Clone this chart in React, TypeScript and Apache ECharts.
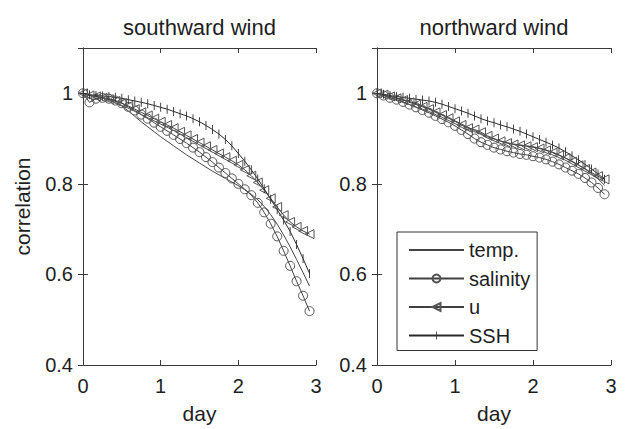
import React, { useEffect, useRef } from "react";
import * as echarts from "echarts";

// time in hours (2-hour steps), converted to days for the x axis
const HOURS = [0, 2, 4, 6, 8, 10, 12, 14, 16, 18, 20, 22, 24, 26, 28, 30, 32, 34, 36, 38, 40, 42, 44, 46, 48, 50, 52, 54, 56, 58, 60, 62, 64, 66, 68, 70];

const SERIES_NAMES = ["temp.", "salinity", "u", "SSH"];
const PANEL_TITLES = ["southward wind", "northward wind"];
const X_TICKS = [0, 1, 2, 3];
const Y_TICKS = [0.4, 0.6, 0.8, 1];

// southward wind
const S_TEMP = [1.0, 0.995, 0.993, 0.99, 0.986, 0.98, 0.972, 0.961, 0.949, 0.937, 0.926, 0.915, 0.904, 0.894, 0.884, 0.874, 0.864, 0.855, 0.846, 0.837, 0.828, 0.82, 0.812, 0.804, 0.796, 0.787, 0.777, 0.765, 0.75, 0.732, 0.711, 0.687, 0.661, 0.633, 0.604, 0.574];
const S_SAL = [1.0, 0.98, 0.988, 0.99, 0.988, 0.984, 0.978, 0.97, 0.962, 0.953, 0.944, 0.935, 0.926, 0.917, 0.908, 0.899, 0.89, 0.88, 0.87, 0.859, 0.848, 0.836, 0.824, 0.812, 0.8, 0.788, 0.775, 0.758, 0.737, 0.712, 0.684, 0.652, 0.619, 0.585, 0.553, 0.519];
const S_U = [1.0, 0.995, 0.993, 0.99, 0.987, 0.983, 0.978, 0.972, 0.965, 0.958, 0.951, 0.944, 0.937, 0.93, 0.923, 0.915, 0.907, 0.899, 0.891, 0.883, 0.875, 0.867, 0.859, 0.851, 0.842, 0.831, 0.818, 0.803, 0.786, 0.768, 0.749, 0.731, 0.716, 0.705, 0.696, 0.689];
const S_SSH = [1.0, 0.997, 0.995, 0.994, 0.993, 0.991, 0.989, 0.986, 0.983, 0.98, 0.977, 0.973, 0.969, 0.965, 0.96, 0.955, 0.95, 0.944, 0.937, 0.929, 0.92, 0.91, 0.898, 0.884, 0.867, 0.85, 0.831, 0.811, 0.789, 0.766, 0.743, 0.72, 0.695, 0.666, 0.635, 0.602];

// northward wind
const N_TEMP = [1.0, 0.996, 0.993, 0.99, 0.986, 0.982, 0.977, 0.972, 0.966, 0.96, 0.953, 0.946, 0.939, 0.932, 0.925, 0.918, 0.911, 0.904, 0.899, 0.895, 0.891, 0.888, 0.886, 0.884, 0.882, 0.879, 0.875, 0.87, 0.864, 0.857, 0.85, 0.842, 0.833, 0.823, 0.811, 0.797];
const N_SAL = [1.0, 0.995, 0.99, 0.986, 0.981, 0.975, 0.969, 0.963, 0.957, 0.95, 0.943, 0.936, 0.928, 0.919, 0.91, 0.9, 0.892, 0.886, 0.88, 0.876, 0.872, 0.869, 0.866, 0.864, 0.861, 0.858, 0.854, 0.849, 0.843, 0.836, 0.829, 0.822, 0.813, 0.803, 0.791, 0.777];
const N_U = [1.0, 0.997, 0.993, 0.989, 0.985, 0.98, 0.975, 0.97, 0.965, 0.958, 0.952, 0.945, 0.938, 0.93, 0.923, 0.92, 0.914, 0.906, 0.9, 0.894, 0.89, 0.887, 0.885, 0.883, 0.881, 0.878, 0.874, 0.869, 0.863, 0.857, 0.849, 0.841, 0.833, 0.825, 0.817, 0.81];
const N_SSH = [1.0, 0.998, 0.995, 0.993, 0.991, 0.989, 0.987, 0.985, 0.983, 0.98, 0.976, 0.971, 0.966, 0.961, 0.956, 0.95, 0.944, 0.939, 0.935, 0.93, 0.926, 0.921, 0.916, 0.91, 0.904, 0.898, 0.892, 0.886, 0.879, 0.871, 0.862, 0.853, 0.843, 0.833, 0.822, 0.81];

const PANELS = [
  [S_TEMP, S_SAL, S_U, S_SSH],
  [N_TEMP, N_SAL, N_U, N_SSH],
];

const FONT = "'Liberation Sans', Arial, Helvetica, sans-serif";
const AXIS_COLOR = "#3a3a3a";
const TEXT_COLOR = "#1e1e1e";
const BAR_SYMBOL = "path://M0,0L0.05,0L0.05,0.05L0,0.05Z M4.5,0L5.5,0L5.5,10L4.5,10Z M9.95,9.95L10,9.95L10,10L9.95,10Z";

function toPairs(vals: number[]) {
  return HOURS.map((h, i) => [h / 24, vals[i]]);
}

function yLabel(v: number) {
  if (v > 1.05) return "";
  const r = Math.round(v * 10) / 10;
  return r === 1 ? "1" : r.toFixed(1);
}

export default function App() {
  const ref = useRef<HTMLDivElement>(null);

  useEffect(() => {
    const chart = echarts.init(ref.current!, null, { renderer: "svg" });
    const grids = [
      { left: 83, top: 48, width: 233, height: 319 },
      { left: 377, top: 48, width: 234, height: 319 },
    ];
    const xAxes: any[] = [];
    const yAxes: any[] = [];
    const tick = { inside: true, length: 5, lineStyle: { color: AXIS_COLOR, width: 1 } };
    const line = { lineStyle: { color: AXIS_COLOR, width: 1 } };
    grids.forEach((_, gi) => {
      xAxes.push({
        type: "value", gridIndex: gi, min: X_TICKS[0], max: X_TICKS[X_TICKS.length - 1], interval: 1,
        position: "bottom", name: "day", nameLocation: "middle", nameGap: 38,
        nameTextStyle: { fontSize: 21, color: TEXT_COLOR, fontFamily: FONT },
        axisLine: line, axisTick: tick,
        axisLabel: { fontSize: 20, color: TEXT_COLOR, fontFamily: FONT, margin: 11 },
        splitLine: { show: false },
      });
      xAxes.push({
        type: "value", gridIndex: gi, min: X_TICKS[0], max: X_TICKS[X_TICKS.length - 1], interval: 1,
        position: "top", axisLine: line, axisTick: tick, axisLabel: { show: false }, splitLine: { show: false },
      });
      yAxes.push({
        type: "value", gridIndex: gi, min: Y_TICKS[0], max: 1.1, interval: 0.2, position: "left",
        name: gi === 0 ? "correlation" : "", nameLocation: "middle", nameGap: 50, nameRotate: 90,
        nameTextStyle: { fontSize: 21, color: TEXT_COLOR, fontFamily: FONT },
        axisLine: { show: true, ...line }, axisTick: tick,
        axisLabel: { fontSize: 20, color: TEXT_COLOR, fontFamily: FONT, margin: 10, formatter: yLabel },
        splitLine: { show: false },
      });
      yAxes.push({
        type: "value", gridIndex: gi, min: Y_TICKS[0], max: 1.1, interval: 0.2, position: "right",
        axisLine: { show: true, ...line }, axisTick: tick, axisLabel: { show: false }, splitLine: { show: false },
      });
    });

    const series: any[] = [];
    PANELS.forEach((vals, p) => {
      const base = { type: "line", xAxisIndex: 2 * p, yAxisIndex: 2 * p, z: 3 };
      series.push({
        ...base, name: SERIES_NAMES[0], data: toPairs(vals[0]), symbol: "circle", showSymbol: false,
        itemStyle: { color: "rgba(0,0,0,0)", borderWidth: 0 },
        lineStyle: { color: "#444444", width: 1 },
      });
      series.push({
        ...base, name: SERIES_NAMES[1], data: toPairs(vals[1]), symbol: "circle", symbolSize: 9,
        itemStyle: { color: "rgba(0,0,0,0)", borderColor: "#555555", borderWidth: 1 },
        lineStyle: { color: "#404040", width: 1 },
      });
      series.push({
        ...base, name: SERIES_NAMES[2], data: toPairs(vals[2]), symbol: "triangle", symbolSize: 9, symbolRotate: 90,
        itemStyle: { color: "rgba(0,0,0,0)", borderColor: "#555555", borderWidth: 1 },
        lineStyle: { color: "#404040", width: 1 },
      });
      series.push({
        ...base, name: SERIES_NAMES[3], data: toPairs(vals[3]), symbol: BAR_SYMBOL, symbolSize: 9,
        itemStyle: { color: "#333333", borderWidth: 0 },
        lineStyle: { color: "#2a2a2a", width: 1 },
      });
    });

    chart.setOption({
      animation: false,
      backgroundColor: "#ffffff",
      grid: grids,
      xAxis: xAxes,
      yAxis: yAxes,
      series,
      legend: {
        data: SERIES_NAMES,
        orient: "vertical",
        left: 397,
        top: 232,
        itemWidth: 55,
        itemHeight: 10,
        itemGap: 8.5,
        padding: [8, 7, 5, 11],
        borderColor: "#333",
        borderWidth: 1,
        backgroundColor: "#ffffff",
        selectedMode: false,
        textStyle: { fontSize: 20, color: TEXT_COLOR, fontFamily: FONT },
      },
      graphic: PANEL_TITLES.map((t, i) => ({
        type: "text",
        x: i === 0 ? 199.5 : 494,
        y: 27,
        style: { text: t, fontSize: 22, fill: TEXT_COLOR, fontFamily: FONT, align: "center", verticalAlign: "middle" },
      })),
    });
    return () => chart.dispose();
  }, []);

  return <div ref={ref} style={{ position: "absolute", left: 0, top: 0, width: 628, height: 429 }} />;
}
